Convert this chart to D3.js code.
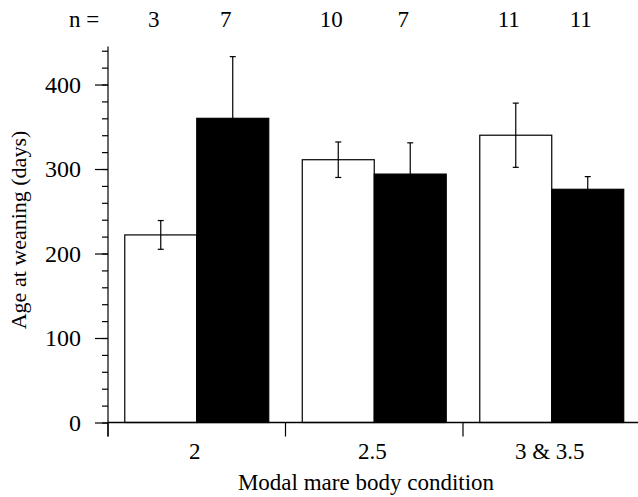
<!DOCTYPE html>
<html><head><meta charset="utf-8">
<script src="https://cdn.jsdelivr.net/npm/d3@7"></script>
<style>
body{margin:0;background:#fff;font-family:"Liberation Serif","Times New Roman",Times,serif}
svg{display:block}
svg text{font-family:"Liberation Serif","Times New Roman",Times,serif !important;fill:#000}
</style>
</head><body>
<svg id="c" width="638" height="497"></svg>
<script>
const categories = ["2", "2.5", "3 & 3.5"];
const series = ["white", "black"];
const valuesWhite = [222, 311, 340];
const errorsWhite = [17, 21, 38];
const valuesBlack = [360, 294, 276];
const errorsBlack = [73, 37, 15];
const nWhite = ["3", "10", "11"];
const nBlack = ["7", "7", "11"];
const majorTicks = [0, 100, 200, 300, 400];
const minorTicks = d3.range(0, 441, 20);
const FONT = '"Liberation Serif", "Times New Roman", Times, serif';

const svg = d3.select("#c");
const x0 = d3.scaleBand().domain(categories).range([108, 640.5]).padding(0);
const x1 = d3.scaleBand().domain(series).range([0, x0.bandwidth()]).paddingInner(0).paddingOuter(0.233);
const y = d3.scaleLinear().domain([0, 445]).range([422.5, 46.5]);

const rows = categories.map((c, i) => [
  {c, s: "white", v: valuesWhite[i], e: errorsWhite[i], n: nWhite[i]},
  {c, s: "black", v: valuesBlack[i], e: errorsBlack[i], n: nBlack[i]}
]).flat();

// bars
svg.append("g").selectAll("rect").data(rows).join("rect")
  .attr("x", d => x0(d.c) + x1(d.s))
  .attr("y", d => y(d.v))
  .attr("width", x1.bandwidth())
  .attr("height", d => y(0) - y(d.v))
  .attr("fill", d => d.s === "white" ? "#fff" : "#000")
  .attr("stroke", "#000").attr("stroke-width", 1.2);

// error bars
const eb = svg.append("g").attr("stroke", "#000").attr("stroke-width", 1.2);
rows.forEach(d => {
  const cx = x0(d.c) + x1(d.s) + x1.bandwidth() / 2;
  eb.append("line").attr("x1", cx).attr("x2", cx).attr("y1", y(d.v - d.e)).attr("y2", y(d.v + d.e));
  eb.append("line").attr("x1", cx - 3).attr("x2", cx + 3).attr("y1", y(d.v + d.e)).attr("y2", y(d.v + d.e));
  eb.append("line").attr("x1", cx - 3).attr("x2", cx + 3).attr("y1", y(d.v - d.e)).attr("y2", y(d.v - d.e));
});

// y axis
const ya = svg.append("g").attr("transform", "translate(108,0)");
ya.call(d3.axisLeft(y).tickValues(minorTicks).tickSize(6).tickFormat("")).call(g => g.select(".domain").remove());
const ym = svg.append("g").attr("transform", "translate(108,0)")
  .call(d3.axisLeft(y).tickValues(majorTicks).tickSize(13).tickPadding(14).tickFormat(d3.format("d")));
ym.attr("font-family", null).attr("font-size", null);
ya.attr("font-family", null).attr("font-size", null);
ym.select(".domain").attr("d", `M0,${y(0) + 14}V${y(445)}`).attr("stroke-width", 1.2);
ym.selectAll("text").style("font-size", "24px").style("font-family", FONT).attr("fill", "#000");
svg.selectAll(".tick line").attr("stroke", "#000").attr("stroke-width", 1.2);

// x axis
svg.append("line").attr("x1", 108).attr("x2", 638).attr("y1", y(0)).attr("y2", y(0)).attr("stroke", "#000").attr("stroke-width", 1.5);
svg.append("g").selectAll("line").data(categories).join("line")
  .attr("x1", d => x0(d)).attr("x2", d => x0(d)).attr("y1", y(0)).attr("y2", y(0) + 14)
  .attr("stroke", "#000").attr("stroke-width", 1.2);
svg.append("g").selectAll("text").data(categories).join("text")
  .attr("x", d => x0(d) + x0.bandwidth() / 2 - 2).attr("y", 459)
  .attr("text-anchor", "middle").attr("font-size", 23).style("font-family", FONT).text(d => d);

// n labels
svg.append("text").attr("x", 84).attr("y", 27).attr("text-anchor", "middle")
  .attr("font-size", 23).style("font-family", FONT).text("n =");
svg.append("g").selectAll("text").data(rows).join("text")
  .attr("x", d => x0(d.c) + x1(d.s) + x1.bandwidth() / 2 - 7).attr("y", 27)
  .attr("text-anchor", "middle").attr("font-size", 23).style("font-family", FONT).text(d => d.n);

// axis titles
svg.append("text").attr("x", 366).attr("y", 490).attr("text-anchor", "middle")
  .attr("font-size", 23).style("font-family", FONT).text("Modal mare body condition");
svg.append("text").attr("transform", "translate(26,230) rotate(-90)").attr("text-anchor", "middle")
  .attr("font-size", 22).style("font-family", FONT).text("Age at weaning (days)");
</script>
</body></html>
